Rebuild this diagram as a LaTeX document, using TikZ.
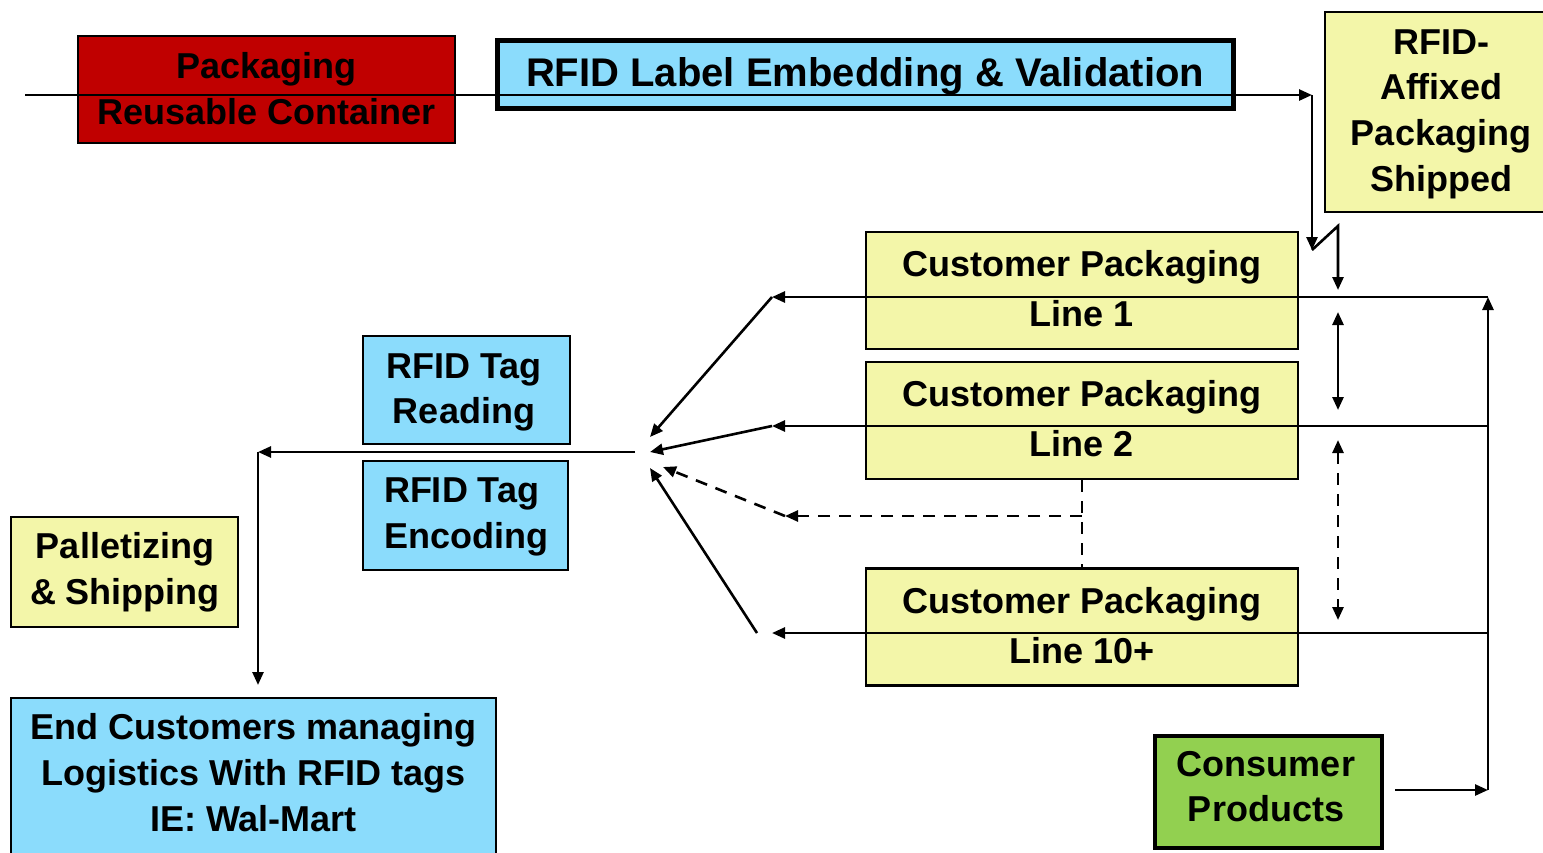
\documentclass[tikz,border=0pt]{standalone}
\usepackage{fontspec}
\setmainfont{Liberation Sans}
\usetikzlibrary{arrows.meta}
\definecolor{lblue}{HTML}{8BDCFC}
\definecolor{lyel}{HTML}{F3F6A9}
\definecolor{dred}{HTML}{C00000}
\definecolor{lgreen}{HTML}{92D050}
\begin{document}
\begin{tikzpicture}[x=1pt,y=-1pt,
  box/.style={draw=black, line width=2.5pt, inner sep=0pt, align=center,
    font=\bfseries\fontsize{36}{45.7}\selectfont},
  cpbox/.style={box, fill=lyel, minimum width=432pt, minimum height=117pt},
  txt/.style={inner sep=0pt, align=center, font=\bfseries\fontsize{36}{45.7}\selectfont},
  cptxt/.style={txt, font=\bfseries\fontsize{36}{50}\selectfont},
  tip/.tip={Triangle[length=13pt,width=11pt]},
  conn/.style={line width=2.6pt, -tip},
  dashln/.style={line width=2.6pt, dash pattern=on 12pt off 9pt},
  dbl/.style={line width=2.6pt, tip-tip}]
\useasboundingbox (0,0) rectangle (1543,852);
\fill[white] (0,0) rectangle (1543,852);

% boxes
\node[box, fill=dred, minimum width=377pt, minimum height=107pt] (pack) at (266.5,89.5) {};
\node[txt] (packt) at (266.5,88.5) {Packaging\\Reusable Container};
\node[box, fill=lblue, line width=5pt, minimum width=736pt, minimum height=68pt] (label) at (865,74) {};
\node[txt, font=\bfseries\fontsize{40}{48}\selectfont] (labelt) at (865,76) {RFID Label Embedding \& Validation};
\node[box, fill=lyel, minimum width=225pt, minimum height=200pt] (ship) at (1437.5,112) {};
\node[txt] (shipt) at (1441,114) {RFID-\\Affixed\\Packaging\\Shipped};
\node[cpbox] (cp1) at (1082,290.5) {};
\node[cptxt] at (1082,288.5) {Customer Packaging\\Line 1};
\node[cpbox] (cp2) at (1082,420.5) {};
\node[cptxt] at (1082,418.5) {Customer Packaging\\Line 2};
\node[cpbox] (cp10) at (1082,627) {};
\node[cptxt] at (1082,625.5) {Customer Packaging\\Line 10+};
\node[box, fill=lblue, minimum width=207pt, minimum height=108pt] (read) at (466.5,390) {};
\node[txt] (readt) at (464,392.5) {RFID Tag\\Reading};
\node[box, fill=lblue, minimum width=205pt, minimum height=109pt] (enc) at (465.5,515.5) {};
\node[txt, align=left] (enct) at (466,517) {RFID Tag\\Encoding};
\node[box, fill=lyel, minimum width=227pt, minimum height=110pt] (pal) at (124.5,572) {};
\node[txt] (palt) at (125,572) {Palletizing\\\& Shipping};
\node[box, fill=lblue, minimum width=485pt, minimum height=162pt] (endc) at (253.5,779) {};
\node[txt] (endt) at (253.5,772.5) {End Customers managing\\Logistics With RFID tags\\IE: Wal-Mart};
\node[box, fill=lgreen, line width=4.5pt, minimum width=227pt, minimum height=112pt] (cons) at (1268.5,792) {};
\node[txt] (const) at (1266,786.5) {Consumer\\Products};

% junction coordinates
\coordinate (a0) at (25,95);
\coordinate (a1) at (1312,95);
\coordinate (a2) at (1312,250);
\coordinate (a3) at (1338,226);
\coordinate (a4) at (1338,290);
\coordinate (c0) at (1395,790);
\coordinate (c1) at (1488,790);
\coordinate (r1) at (1488,297);
\coordinate (r2) at (1488,426);
\coordinate (r10) at (1488,633);
\coordinate (l1) at (772,297);
\coordinate (l2) at (772,426);
\coordinate (l10) at (772,633);
\coordinate (l10b) at (757,633);
\coordinate (h1) at (650,437);
\coordinate (h2) at (650,452);
\coordinate (h3) at (663,467);
\coordinate (h4) at (650,468);
\coordinate (d0) at (1082,516);
\coordinate (d1) at (785,516);
\coordinate (m0) at (635,452);
\coordinate (m1) at (258,452);
\coordinate (m2) at (258,685);

% connectors
\draw[conn] (a0) -- (a1);
\draw[conn] (a1) -- (a2);
\draw[conn] (a2) -- (a3) -- (a4);
\draw[conn] (c0) -- (c1);
\draw[conn] (c1) -- (r1);
\draw[conn] (r1) -- (l1);
\draw[conn] (r2) -- (l2);
\draw[conn] (r10) -- (l10);
\draw[conn] (l1) -- (h1);
\draw[conn] (l2) -- (h2);
\draw[conn] (l10b) -- (h4);
\draw[dashln] (cp2.south) -- (cp10.north);
\draw[dashln, -tip] (d0) -- (d1);
\draw[dashln, -tip] (d1) -- (h3);
\draw[conn] (m0) -- (m1);
\draw[conn] (m1) -- (m2);
\draw[dbl] (1338,312) -- (1338,410);
\draw[dbl, dash pattern=on 12pt off 9pt] (1338,440) -- (1338,620);
\end{tikzpicture}
\end{document}
